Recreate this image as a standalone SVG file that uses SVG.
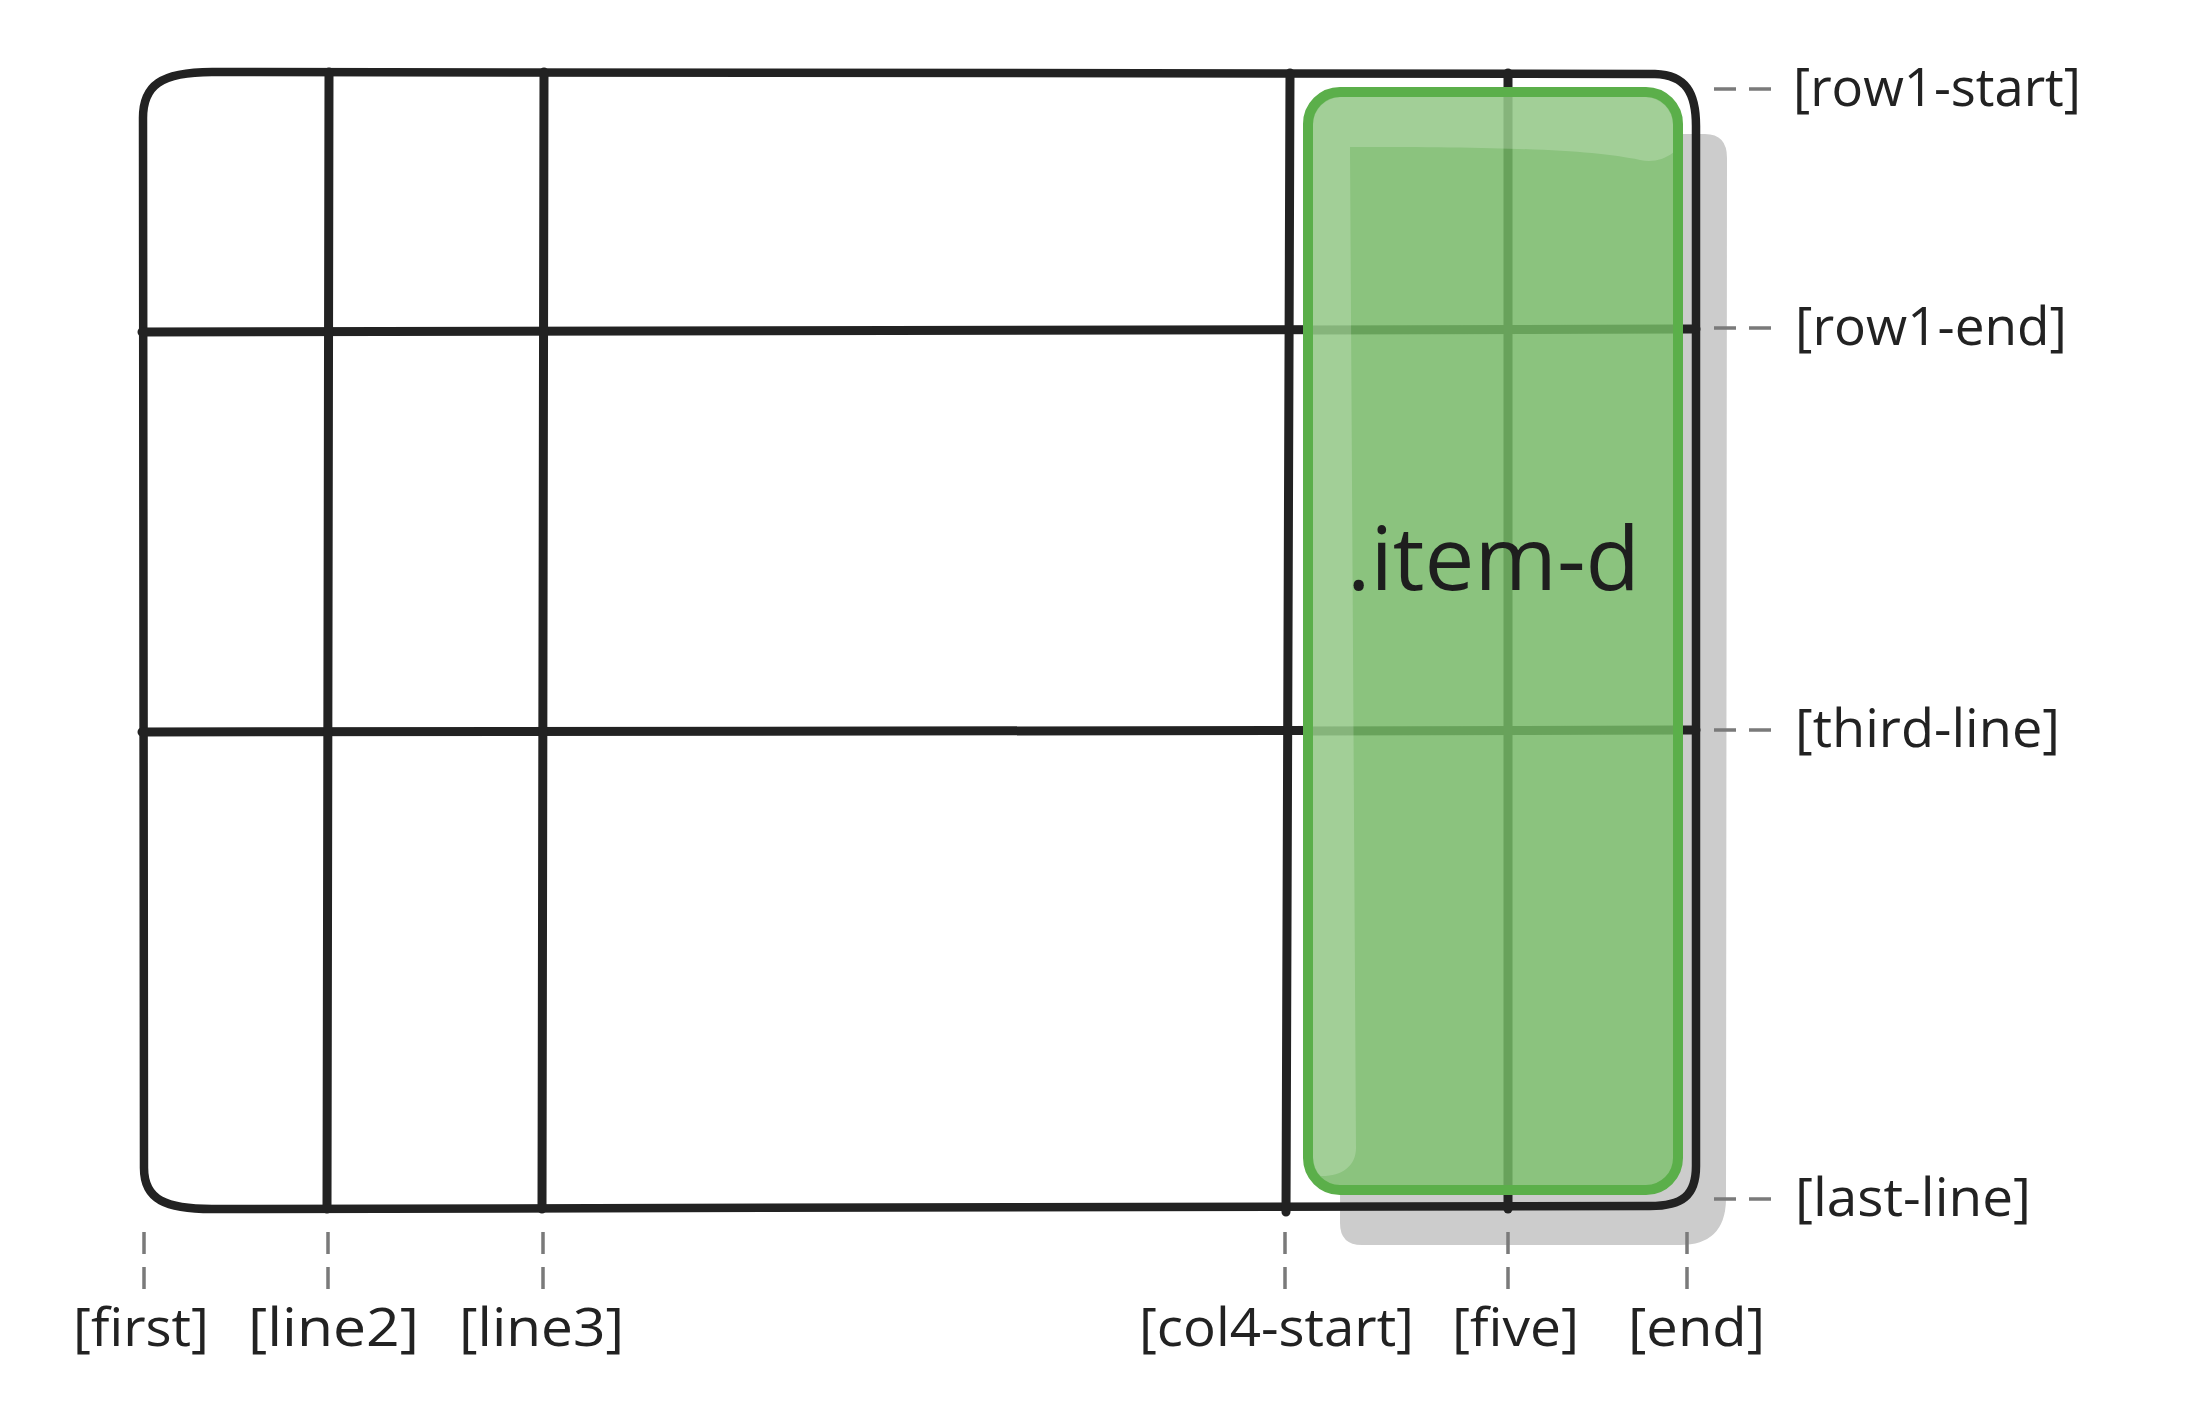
<svg xmlns="http://www.w3.org/2000/svg" width="2210" height="1410" viewBox="0 0 2210 1410">
  <style>
    .frame { stroke: #222222; stroke-width: 8.5; fill: none; stroke-linecap: round; }
    .grid { stroke: #222222; stroke-width: 9; fill: none; stroke-linecap: round; }
    .ghost { stroke: #68a25b; stroke-width: 9; fill: none; }
    .dash { stroke: #7a7a7a; stroke-width: 3.5; stroke-dasharray: 22 13; fill: none; }
    .lbl { font-family: "Open Sans", "Liberation Sans", sans-serif; font-size: 53px; fill: #222222; }
    .item { font-family: "Open Sans", "Liberation Sans", sans-serif; font-size: 88px; fill: #1e1e1e; }
  </style>
  <defs>
    <clipPath id="greenInner">
      <rect x="1313" y="97" width="360" height="1088" rx="28"/>
    </clipPath>
  </defs>
  <rect x="0" y="0" width="2210" height="1410" fill="#ffffff"/>

  <g id="shadow">
    <path d="M1372,134 L1705,134 Q1727,134 1727,158 L1726,1200 Q1725,1245 1680,1245 L1362,1245 Q1340,1245 1340,1223 L1342,164 Q1342,134 1372,134 Z" fill="#cccccc"/>
  </g>

  <g id="grid">
    <path class="frame" d="M143,118 C143,86 160,72 212,72 L1655,74 C1686,75 1696,93 1696,126 L1696,1166 C1696,1196 1682,1206 1650,1206 L212,1209 C166,1209 144,1200 144,1168 Z"/>
    <line class="grid" x1="142" y1="332" x2="1696" y2="329"/>
    <line class="grid" x1="142" y1="732" x2="1696" y2="730"/>
    <line class="grid" x1="329" y1="72" x2="327" y2="1209"/>
    <line class="grid" x1="544" y1="72" x2="542" y2="1209"/>
    <line class="grid" x1="1290" y1="73" x2="1286" y2="1212"/>
    <line class="grid" x1="1508" y1="73" x2="1508" y2="1209"/>
  </g>

  <g id="item-d">
    <rect x="1308" y="92" width="370" height="1098" rx="32" fill="#8bc37e"/>
    <line class="ghost" x1="1308" y1="330" x2="1678" y2="329"/>
    <line class="ghost" x1="1308" y1="731" x2="1678" y2="730"/>
    <line class="ghost" x1="1508" y1="92" x2="1508" y2="1190"/>
    <path clip-path="url(#greenInner)" d="M1290,80 L1700,80 L1700,112 C1685,150 1665,165 1640,160 C1590,150 1520,147 1350,147 L1356,1148 C1356,1166 1342,1176 1322,1176 L1290,1176 Z" fill="#ffffff" fill-opacity="0.2"/>
    <rect x="1308" y="92" width="370" height="1098" rx="32" fill="none" stroke="#5baf4a" stroke-width="10"/>
    <text class="item" x="1347" y="590" textLength="293" lengthAdjust="spacingAndGlyphs">.item-d</text>
  </g>

  <g id="connectors">
    <line class="dash" x1="1714" y1="89" x2="1773" y2="89"/>
    <line class="dash" x1="1714" y1="328" x2="1773" y2="328"/>
    <line class="dash" x1="1714" y1="730" x2="1773" y2="730"/>
    <line class="dash" x1="1714" y1="1199" x2="1773" y2="1199"/>
    <line class="dash" x1="144" y1="1232" x2="144" y2="1291"/>
    <line class="dash" x1="328" y1="1232" x2="328" y2="1291"/>
    <line class="dash" x1="543" y1="1232" x2="543" y2="1291"/>
    <line class="dash" x1="1285" y1="1232" x2="1285" y2="1291"/>
    <line class="dash" x1="1508" y1="1232" x2="1508" y2="1291"/>
    <line class="dash" x1="1687" y1="1232" x2="1687" y2="1291"/>
  </g>

  <g id="labels-right">
    <text class="lbl" x="1793" y="106" textLength="288" lengthAdjust="spacingAndGlyphs">[row1-start]</text>
    <text class="lbl" x="1795" y="345" textLength="272" lengthAdjust="spacingAndGlyphs">[row1-end]</text>
    <text class="lbl" x="1795" y="747" textLength="265" lengthAdjust="spacingAndGlyphs">[third-line]</text>
    <text class="lbl" x="1795" y="1216" textLength="236" lengthAdjust="spacingAndGlyphs">[last-line]</text>
  </g>

  <g id="labels-bottom">
    <text class="lbl" x="73" y="1346" textLength="136" lengthAdjust="spacingAndGlyphs">[first]</text>
    <text class="lbl" x="248" y="1346" textLength="171" lengthAdjust="spacingAndGlyphs">[line2]</text>
    <text class="lbl" x="459" y="1346" textLength="165" lengthAdjust="spacingAndGlyphs">[line3]</text>
    <text class="lbl" x="1139" y="1346" textLength="275" lengthAdjust="spacingAndGlyphs">[col4-start]</text>
    <text class="lbl" x="1452" y="1346" textLength="127" lengthAdjust="spacingAndGlyphs">[five]</text>
    <text class="lbl" x="1628" y="1346" textLength="137" lengthAdjust="spacingAndGlyphs">[end]</text>
  </g>
</svg>
